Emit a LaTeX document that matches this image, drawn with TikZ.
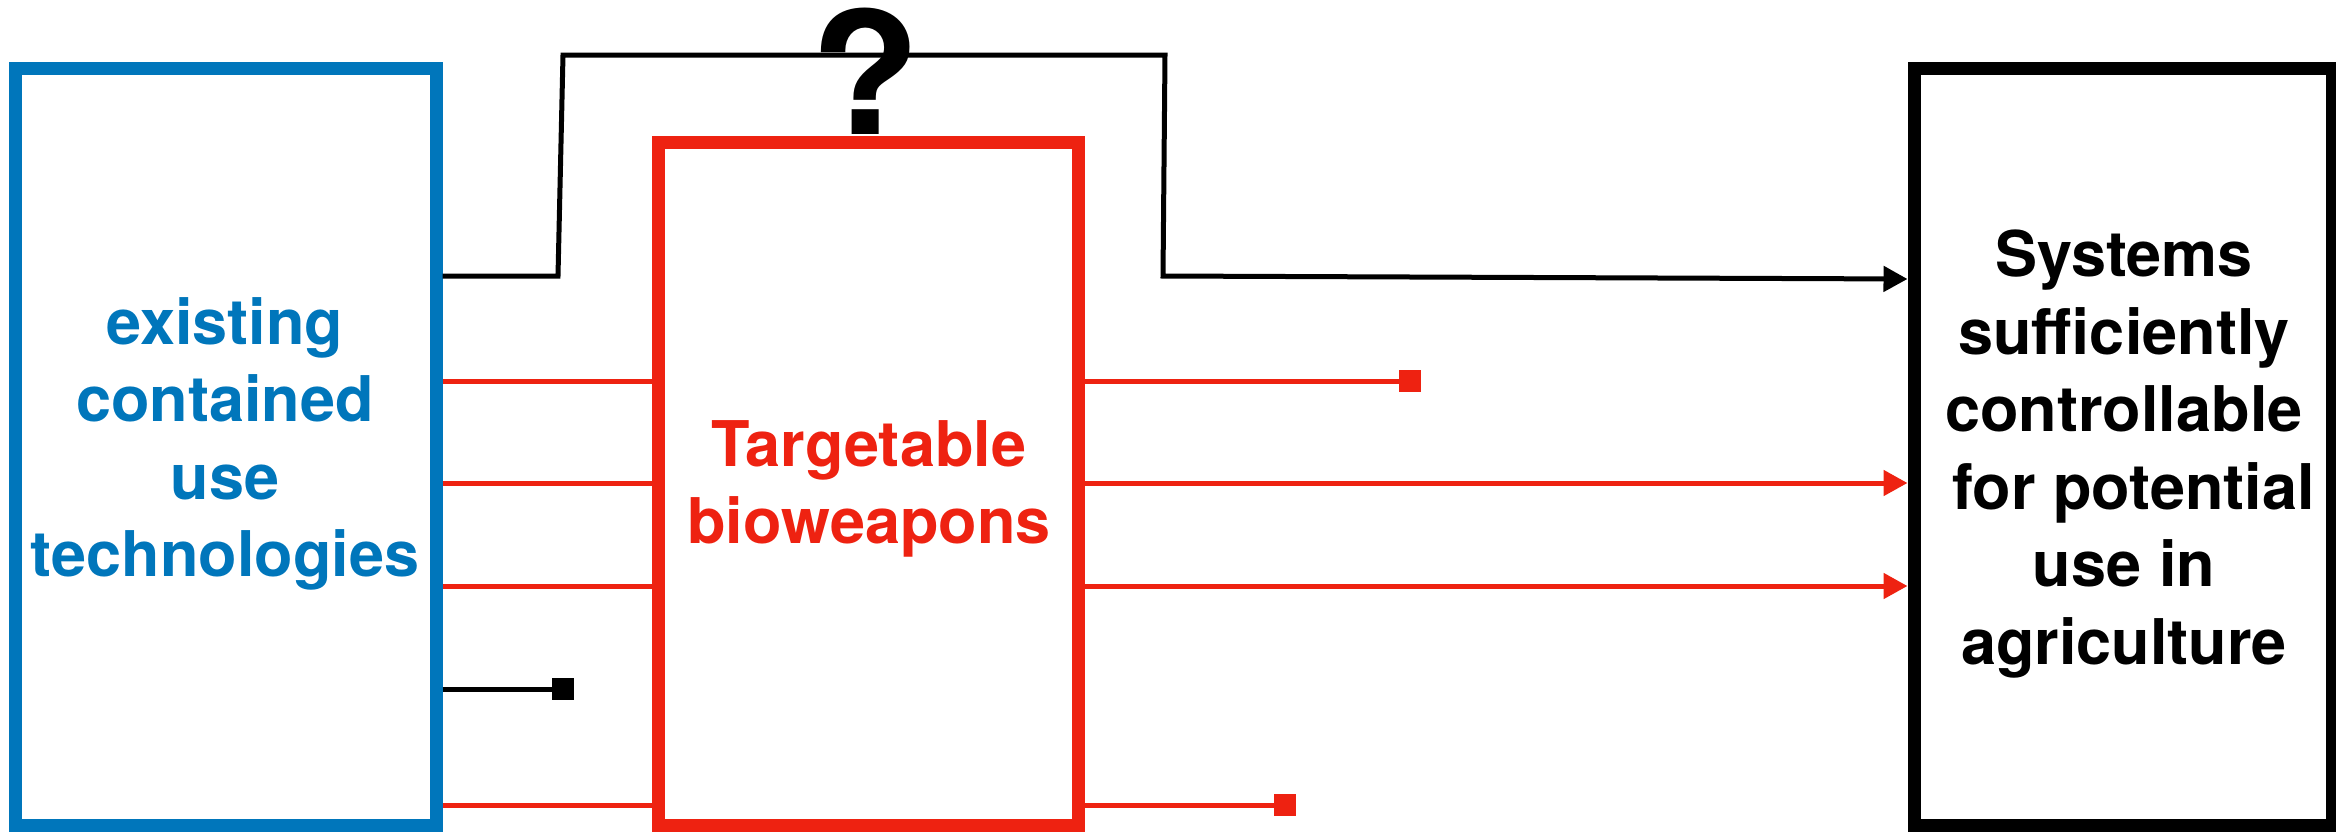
\documentclass[tikz,border=0pt]{standalone}
\usepackage{fontspec}
\newfontfamily\hv{TeX Gyre Heros}
\usetikzlibrary{arrows.meta}
\definecolor{kblue}{RGB}{0,118,187}
\definecolor{kred}{RGB}{238,34,17}
\tikzset{
  box/.style={draw, line width=6.5pt, outer sep=3.25pt, inner sep=0pt, rectangle},
  lbl/.style={align=center, font=\hv\bfseries\fontsize{31.5}{38.75}\selectfont, inner sep=0pt},
  redline/.style={draw=kred, line width=2.5pt},
  blkline/.style={draw=black, line width=2.5pt},
  arr/.style={-{Triangle[length=12pt,width=12.5pt]}},
  sq/.style={-{Square[length=11pt,width=11pt]}}
}
\begin{document}
\begin{tikzpicture}[x=0.5pt,y=-0.5pt]
\useasboundingbox (0,0) rectangle (2336,831);
% boxes
\node[box, draw=kblue, minimum width=210.5pt, minimum height=378.5pt] (tech) at (225.5,446.5) {};
\node[box, draw=kred, minimum width=210pt, minimum height=341.5pt] (bio) at (868,483.5) {};
\node[box, draw=black, minimum width=209pt, minimum height=378.5pt] (sys) at (2123,446.5) {};
% labels
\node[lbl, text=kblue] (techlbl) at (225,444) {existing\\contained\\use\\technologies};
\node[lbl, text=kred] (biolbl) at (869,489) {Targetable\\bioweapons};
\node[lbl, text=black] (syslbl) at (2124,454) {Systems\\sufficiently\\controllable\\\hspace*{0.3em}for potential\\use in\\agriculture};
% end points of stubs
\coordinate (e1) at (1421,381);
\coordinate (e2) at (1296,805);
\coordinate (e3) at (574,689);
% black path over the red box
\draw[blkline, arr, line join=miter] (tech.east |- 0,276) -- (558,276) -- (563,55) -- (1165,55) -- (1163,276) -- (sys.west |- 0,279);
% red lines from tech to bio
\draw[redline] (tech.east |- 0,381) -- (bio.west |- 0,381);
\draw[redline] (tech.east |- 0,483) -- (bio.west |- 0,483);
\draw[redline] (tech.east |- 0,586) -- (bio.west |- 0,586);
\draw[redline] (tech.east |- 0,805) -- (bio.west |- 0,805);
% black stub
\draw[blkline, sq] (tech.east |- e3) -- (e3);
% red from bio
\draw[redline, sq] (bio.east |- e1) -- (e1);
\draw[redline, arr] (bio.east |- 0,483) -- (sys.west |- 0,483);
\draw[redline, arr] (bio.east |- 0,586) -- (sys.west |- 0,586);
\draw[redline, sq] (bio.east |- e2) -- (e2);
% question mark
\node[font=\hv\bfseries\fontsize{85}{90}\selectfont, inner sep=0pt, xscale=1.06] (q) at (866,71.5) {?};
\end{tikzpicture}
\end{document}
